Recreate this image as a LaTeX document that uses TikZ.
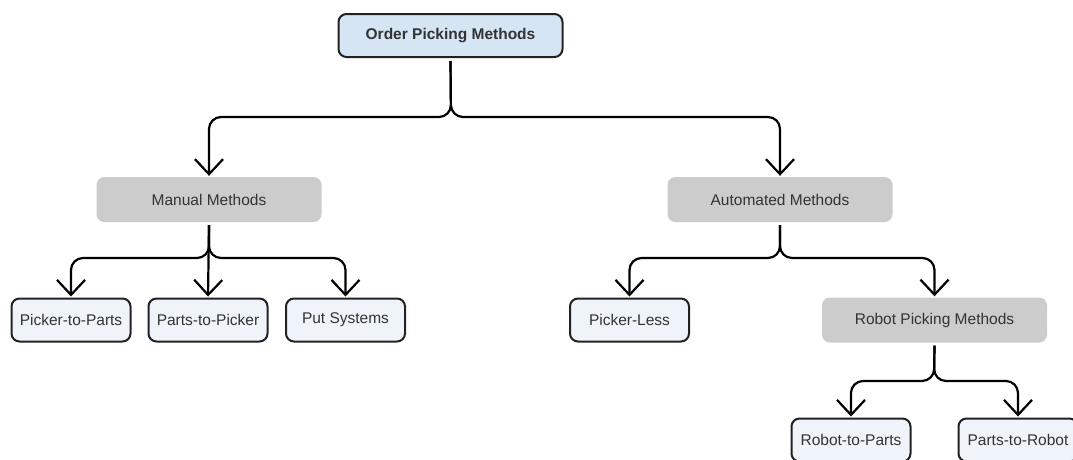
\documentclass[tikz,border=0pt]{standalone}
\usepackage{fontspec}
\setmainfont{Liberation Sans}
\usetikzlibrary{arrows.meta}
\definecolor{rootfill}{HTML}{D5E5F3}
\definecolor{leaffill}{HTML}{EEF4FA}
\definecolor{groupfill}{HTML}{CCCCCC}
\definecolor{edge}{HTML}{222222}
\definecolor{txt}{HTML}{333333}
\tikzset{
  x=1pt, y=-1pt,
  every node/.style={font=\fontsize{15.5}{18}\selectfont, text=txt, inner sep=0pt, align=center},
  rootbox/.style={draw=edge, line width=2pt, fill=rootfill, rounded corners=8pt,
    minimum width=224pt, minimum height=43pt, font=\fontsize{15.5}{18}\selectfont\bfseries},
  groupbox/.style={fill=groupfill, rounded corners=8pt, minimum width=225pt, minimum height=45pt},
  leafbox/.style={draw=edge, line width=2pt, fill=leaffill, rounded corners=8pt,
    minimum width=119pt, minimum height=43pt},
  conn/.style={line width=2.2pt, draw=black, rounded corners=12pt,
    -{Straight Barb[length=15pt,width=28pt]}, shorten >=1pt},
}
\begin{document}
\begin{tikzpicture}
\clip (0,0) rectangle (1073,459);
\fill[white] (0,0) rectangle (1073,459);

% tree nodes
\node[rootbox]  (root)   at (450.5,35.5) {Order Picking Methods};
\node[groupbox] (manual) at (209,199.5)  {Manual Methods};
\node[groupbox] (auto)   at (780,199.5)  {Automated Methods};
\node[leafbox]  (p2p)    at (71,320)     {Picker-to-Parts};
\node[leafbox]  (pts)    at (208,320)    {Parts-to-Picker};
\node[leafbox]  (put)    at (345.5,320)  {Put Systems};
\node[leafbox]  (pless)  at (629.5,320)  {Picker-Less};
\node[groupbox] (robot)  at (934.5,320)  {Robot Picking Methods};
\node[leafbox]  (r2p)    at (851,440)    {Robot-to-Parts};
\node[leafbox]  (p2r)    at (1018,440)   {Parts-to-Robot};

% branch points
\coordinate (jr) at (451,117);
\coordinate (jm) at (209,258);
\coordinate (ja) at (780,258);
\coordinate (jb) at (934,381);

% connectors
\draw[conn] ([yshift=-3pt]root.south) -- (jr) -| (manual.north);
\draw[conn] ([yshift=-3pt]root.south) -- (jr) -| (auto.north);
\draw[conn] ([yshift=-3pt]manual.south) -- (jm) -| (p2p.north);
\draw[conn] ([yshift=-3pt]manual.south) -- (pts.north);
\draw[conn] ([yshift=-3pt]manual.south) -- (jm) -| (put.north);
\draw[conn] ([yshift=-3pt]auto.south) -- (ja) -| (pless.north);
\draw[conn] ([yshift=-3pt]auto.south) -- (ja) -| (robot.north);
\draw[conn] ([yshift=-3pt]robot.south) -- (jb) -| (r2p.north);
\draw[conn] ([yshift=-3pt]robot.south) -- (jb) -| (p2r.north);
\end{tikzpicture}
\end{document}
